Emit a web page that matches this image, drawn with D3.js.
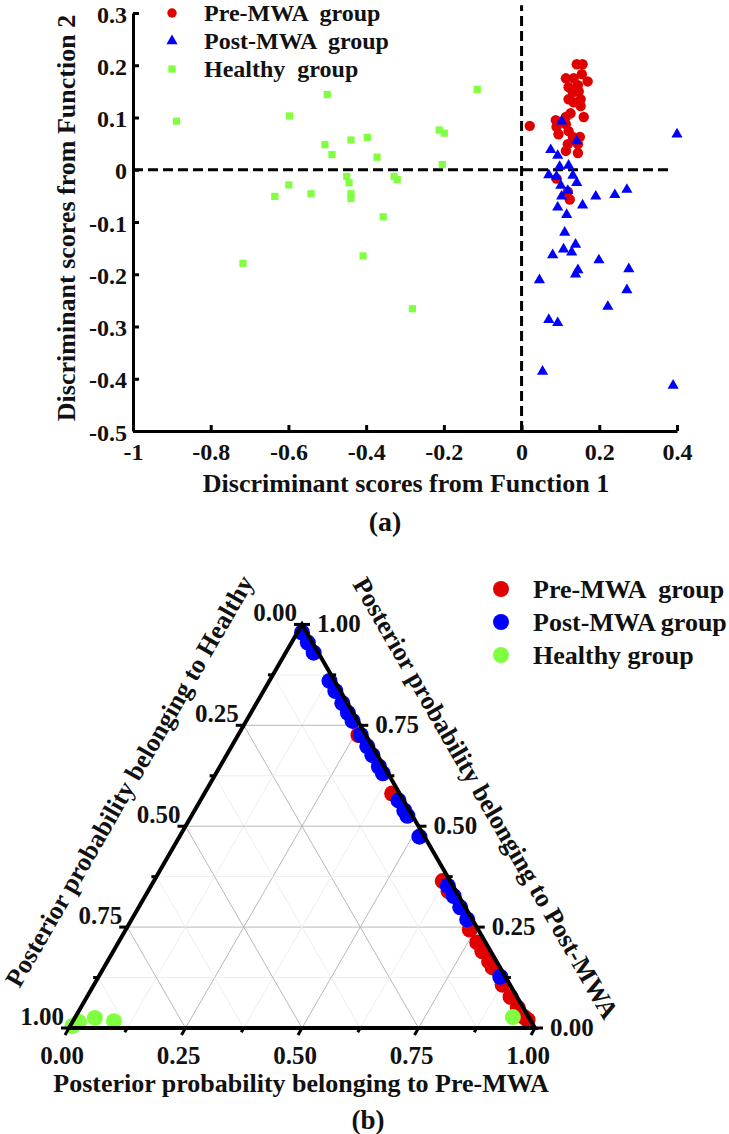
<!DOCTYPE html>
<html lang="en">
<head>
<meta charset="UTF-8">
<title>Discriminant scores and posterior probabilities</title>
<script src="https://d3js.org/d3.v7.min.js"></script>
<style>
    body { margin: 0; background: #fff; }
    text { font-family: "Liberation Serif", "Times New Roman", serif; font-weight: bold; fill: #111; }
</style>
</head>
<body>
<div class="canvas"></div>
<script>
// ---------- (a) discriminant scores ----------
const xTicks = [-1, -0.8, -0.6, -0.4, -0.2, 0, 0.2, 0.4];
const xTickLabels = ['-1', '-0.8', '-0.6', '-0.4', '-0.2', '0', '0.2', '0.4'];
const yTicks = [-0.5, -0.4, -0.3, -0.2, -0.1, 0, 0.1, 0.2, 0.3];
const yTickLabels = ['-0.5', '-0.4', '-0.3', '-0.2', '-0.1', '0', '0.1', '0.2', '0.3'];
const groups = ['Pre-MWA  group', 'Post-MWA  group', 'Healthy  group'];

// Pre-MWA group (function 1, function 2)
const preF1 = [0.142, 0.157, 0.155, 0.114, 0.134, 0.170, 0.145, 0.121, 0.132, 0.147, 0.121, 0.152, 0.134, 0.152,
               0.126, 0.160, 0.114, 0.088, 0.021, 0.090, 0.114, 0.095, 0.121, 0.132, 0.150, 0.119, 0.145, 0.114,
               0.145, 0.090, 0.119, 0.124];
const preF2 = [0.202, 0.202, 0.183, 0.175, 0.175, 0.169, 0.162, 0.158, 0.148, 0.150, 0.135, 0.135, 0.129, 0.122,
               0.108, 0.101, 0.101, 0.095, 0.084, 0.082, 0.087, 0.068, 0.074, 0.063, 0.063, 0.049, 0.049, 0.036,
               0.032, -0.017, -0.042, -0.057];
// Post-MWA group
const postF1 = [0.400, 0.103, 0.142, 0.075, 0.093, 0.098, 0.121, 0.070, 0.090, 0.132, 0.142, 0.101, 0.119, 0.103,
                0.191, 0.240, 0.271, 0.157, 0.093, 0.116, 0.111, 0.139, 0.108, 0.129, 0.080, 0.199, 0.145, 0.139,
                0.276, 0.046, 0.271, 0.222, 0.070, 0.093, 0.054, 0.390];
const postF2 = [0.068, 0.093, 0.055, 0.038, 0.027, 0.006, 0.008, -0.010, -0.013, -0.011, -0.025, -0.030, -0.040, -0.051,
                -0.051, -0.048, -0.038, -0.068, -0.072, -0.086, -0.120, -0.143, -0.152, -0.158, -0.163, -0.173, -0.192, -0.200,
                -0.190, -0.211, -0.230, -0.262, -0.287, -0.293, -0.386, -0.413];
// Healthy group
const healthyF1 = [-0.888, -0.500, -0.597, -0.506, -0.488, -0.439, -0.397, -0.372, -0.450, -0.444, -0.439, -0.439, -0.635,
                   -0.599, -0.542, -0.356, -0.328, -0.320, -0.408, -0.717, -0.114, -0.212, -0.199, -0.204, -0.281];
const healthyF2 = [0.093, 0.144, 0.103, 0.048, 0.029, 0.057, 0.062, 0.024, -0.013, -0.025, -0.046, -0.055, -0.051,
                   -0.029, -0.046, -0.090, -0.013, -0.019, -0.165, -0.179, 0.154, 0.076, 0.070, 0.010, -0.266];

// ---------- (b) posterior probabilities (ternary) ----------
const ternTicks = [0, 0.25, 0.5, 0.75, 1];
const ternTickLabels = ['0.00', '0.25', '0.50', '0.75', '1.00'];
const ternGroups = ['Pre-MWA  group', 'Post-MWA group', 'Healthy group'];
// probability of Post-MWA and of Healthy (Pre-MWA is the rest)
const ternPrePost = [0.726, 0.581, 0.364, 0.339, 0.244, 0.212, 0.190, 0.165, 0.150, 0.107, 0.077, 0.050, 0.027, 0.020];
const ternPreHealthy = [0.016, 0.016, 0.016, 0.016, 0.018, 0.018, 0.018, 0.016, 0.016, 0.016, 0.014, 0.012, 0.010, 0.006];
const ternPostPost = [0.980, 0.955, 0.930, 0.860, 0.835, 0.805, 0.781, 0.761, 0.726, 0.698, 0.676, 0.648, 0.631, 0.564,
                      0.539, 0.526, 0.474, 0.352, 0.327, 0.299, 0.269, 0.127];
const ternPostHealthy = [0.010, 0.010, 0.010, 0.011, 0.011, 0.011, 0.011, 0.011, 0.011, 0.011, 0.011, 0.011, 0.011, 0.011,
                         0.011, 0.011, 0.011, 0.011, 0.011, 0.011, 0.011, 0.011];
const ternHealthyPost = [0.005, 0.015, 0.025, 0.017, 0.027];
const ternHealthyHealthy = [0.990, 0.971, 0.932, 0.895, 0.034];

const colors = ['#e00000', '#0000ff', '#80ff40'];

const width = 729, height = 1134;
const svg = d3.select('.canvas').append('svg')
    .attr('width', width).attr('height', height)
    .style('background', '#fff');

// ===== panel (a) =====
const x = d3.scaleLinear().domain([-1, 0.4]).range([133, 677]);
const y = d3.scaleLinear().domain([-0.5, 0.3]).range([431, 13]);

const a = svg.append('g');

// dashed reference lines
a.append('line')
    .attr('x1', x(-1)).attr('x2', x(0.377))
    .attr('y1', y(0)).attr('y2', y(0))
    .attr('stroke', '#000').attr('stroke-width', 3).attr('stroke-dasharray', '10,5');
a.append('line')
    .attr('x1', x(0)).attr('x2', x(0))
    .attr('y1', y(-0.5)).attr('y2', y(0.315))
    .attr('stroke', '#000').attr('stroke-width', 3).attr('stroke-dasharray', '10,5');

const healthyPts = healthyF1.map((v, i) => [v, healthyF2[i]]);
const prePts = preF1.map((v, i) => [v, preF2[i]]);
const postPts = postF1.map((v, i) => [v, postF2[i]]);

a.selectAll('.hp').data(healthyPts).enter().append('path')
    .attr('d', d3.symbol(d3.symbolSquare, 52))
    .attr('transform', d => `translate(${x(d[0])},${y(d[1])})`)
    .attr('fill', colors[2]);
a.selectAll('.pp').data(prePts).enter().append('circle')
    .attr('cx', d => x(d[0])).attr('cy', d => y(d[1]))
    .attr('r', 5.2).attr('fill', colors[0]);
a.selectAll('.qp').data(postPts).enter().append('path')
    .attr('d', d3.symbol(d3.symbolTriangle, 54))
    .attr('transform', d => `translate(${x(d[0])},${y(d[1])})`)
    .attr('fill', colors[1]);

// axes
const xAxisG = a.append('g').attr('transform', `translate(0, ${y(-0.5)})`)
    .call(d3.axisBottom(x).tickValues(xTicks).tickSize(-6).tickSizeOuter(0).tickPadding(12)
        .tickFormat((d, i) => xTickLabels[i]));
const yAxisG = a.append('g').attr('transform', `translate(${x(-1)}, 0)`)
    .call(d3.axisLeft(y).tickValues(yTicks).tickSize(-6).tickSizeOuter(0).tickPadding(6)
        .tickFormat((d, i) => yTickLabels[i]));
[xAxisG, yAxisG].forEach(g => {
    g.select('.domain').attr('stroke', '#000').attr('stroke-width', 3);
    g.selectAll('.tick line').attr('stroke', '#000').attr('stroke-width', 3);
    g.selectAll('.tick text').attr('fill', '#111')
        .style('font-family', '"Liberation Serif", serif').style('font-weight', 'bold').style('font-size', '24px');
});
yAxisG.selectAll('.tick text').attr('dy', '0.38em');

a.append('text').attr('x', 406).attr('y', 492).attr('text-anchor', 'middle')
    .style('font-size', '26px').text('Discriminant scores from Function 1');
a.append('text').attr('transform', `translate(75, 218) rotate(-90)`).attr('text-anchor', 'middle')
    .style('font-size', '26px').text('Discriminant scores from Function 2');
a.append('text').attr('x', 385).attr('y', 531).attr('text-anchor', 'middle')
    .style('font-size', '28px').text('(a)');

// legend (a)
const legA = a.append('g');
const legShapes = [d3.symbolCircle, d3.symbolTriangle, d3.symbolSquare];
const legSizes = [70, 54, 52];
groups.forEach((name, i) => {
    const cy = 13 + i * 28;
    legA.append('path').attr('d', d3.symbol(legShapes[i], legSizes[i]))
        .attr('transform', `translate(172, ${cy})`).attr('fill', colors[i]);
    legA.append('text').attr('x', 204).attr('y', cy + 8)
        .style('font-size', '24px').style('white-space', 'pre').text(name);
});

// ===== panel (b) =====
const tx = d3.scaleLinear().domain([0, 1]).range([69, 535]);
const ty = d3.scaleLinear().domain([0, 1]).range([1028, 1028 - 466 * Math.sqrt(3) / 2]);
// pre, post -> pixel
const tp = (pre, post) => [tx(pre + post / 2), ty(post)];

const b = svg.append('g');

// grid lines (minor then major)
const gridVals = d3.range(1, 8).map(k => k / 8);
gridVals.forEach(v => {
    const major = Math.abs(v * 4 - Math.round(v * 4)) < 1e-9;
    const col = major ? '#b8b8b8' : '#ededed';
    const lines = [
        [tp(0, v), tp(1 - v, v)],          // constant post
        [tp(v, 0), tp(v, 1 - v)],          // constant pre
        [tp(1 - v, 0), tp(0, 1 - v)]       // constant healthy
    ];
    lines.forEach(l => b.append('line')
        .attr('x1', l[0][0]).attr('y1', l[0][1]).attr('x2', l[1][0]).attr('y2', l[1][1])
        .attr('stroke', col).attr('stroke-width', 1));
});

// points
const ternSets = [
    ternPrePost.map((p, i) => [1 - p - ternPreHealthy[i], p]),
    ternPostPost.map((p, i) => [1 - p - ternPostHealthy[i], p]),
    ternHealthyPost.map((p, i) => [1 - p - ternHealthyHealthy[i], p])
];
ternSets.forEach((set, gi) => {
    b.selectAll('.t' + gi).data(set).enter().append('circle')
        .attr('cx', d => tp(d[0], d[1])[0]).attr('cy', d => tp(d[0], d[1])[1])
        .attr('r', 8).attr('fill', colors[gi]);
});

// triangle frame
b.append('path')
    .attr('d', d3.line()([tp(0, 0), tp(1, 0), tp(0, 1)]) + 'Z')
    .attr('fill', 'none').attr('stroke', '#000').attr('stroke-width', 4).attr('stroke-linejoin', 'miter');

// ticks
const tickVals = d3.range(0, 9).map(k => k / 8);
tickVals.forEach(v => {
    const major = (k => Math.abs(k - Math.round(k)) < 1e-9)(v * 4);
    const len = major ? 8 : 5;
    // bottom (pre) - slanted down-left
    let p = tp(v, 0);
    b.append('line').attr('x1', p[0]).attr('y1', p[1])
        .attr('x2', p[0] - len * 0.5).attr('y2', p[1] + len * 0.866)
        .attr('stroke', '#000').attr('stroke-width', 3);
    // left (healthy) - horizontal left
    p = tp(0, 1 - v);
    b.append('line').attr('x1', p[0]).attr('y1', p[1]).attr('x2', p[0] - len).attr('y2', p[1])
        .attr('stroke', '#000').attr('stroke-width', 3);
    // right (post) - horizontal right
    p = tp(1 - v, v);
    b.append('line').attr('x1', p[0]).attr('y1', p[1]).attr('x2', p[0] + len).attr('y2', p[1])
        .attr('stroke', '#000').attr('stroke-width', 3);
});

// tick labels
ternTicks.forEach((v, i) => {
    let p = tp(v, 0);
    b.append('text').attr('x', p[0] - 7).attr('y', p[1] + 36).attr('text-anchor', 'middle')
        .style('font-size', '25px').text(ternTickLabels[i]);
    p = tp(0, 1 - v);
    b.append('text').attr('x', p[0] - 5).attr('y', p[1] - 3).attr('text-anchor', 'end')
        .style('font-size', '25px').text(ternTickLabels[i]);
    p = tp(1 - v, v);
    b.append('text').attr('x', p[0] + 15).attr('y', p[1] + 8).attr('text-anchor', 'start')
        .style('font-size', '25px').text(ternTickLabels[i]);
});

// axis titles
b.append('text').attr('x', 301).attr('y', 1092).attr('text-anchor', 'middle')
    .style('font-size', '26px').text('Posterior probability belonging to Pre-MWA');
b.append('text').attr('transform', 'translate(129, 781) rotate(-60)').attr('text-anchor', 'middle')
    .attr('dy', '0.35em').style('font-size', '26px').text('Posterior probability belonging to Healthy');
b.append('text').attr('transform', 'translate(486, 798) rotate(60)').attr('text-anchor', 'middle')
    .attr('dy', '0.35em').style('font-size', '26px').text('Posterior probability belonging to Post-MWA');
b.append('text').attr('x', 368).attr('y', 1129).attr('text-anchor', 'middle')
    .style('font-size', '27px').text('(b)');

// legend (b)
ternGroups.forEach((name, i) => {
    const cy = 589 + i * 33;
    b.append('circle').attr('cx', 501).attr('cy', cy).attr('r', 8).attr('fill', colors[i]);
    b.append('text').attr('x', 533).attr('y', cy + 9)
        .style('font-size', '26px').style('white-space', 'pre').text(name);
});
</script>
</body>
</html>
